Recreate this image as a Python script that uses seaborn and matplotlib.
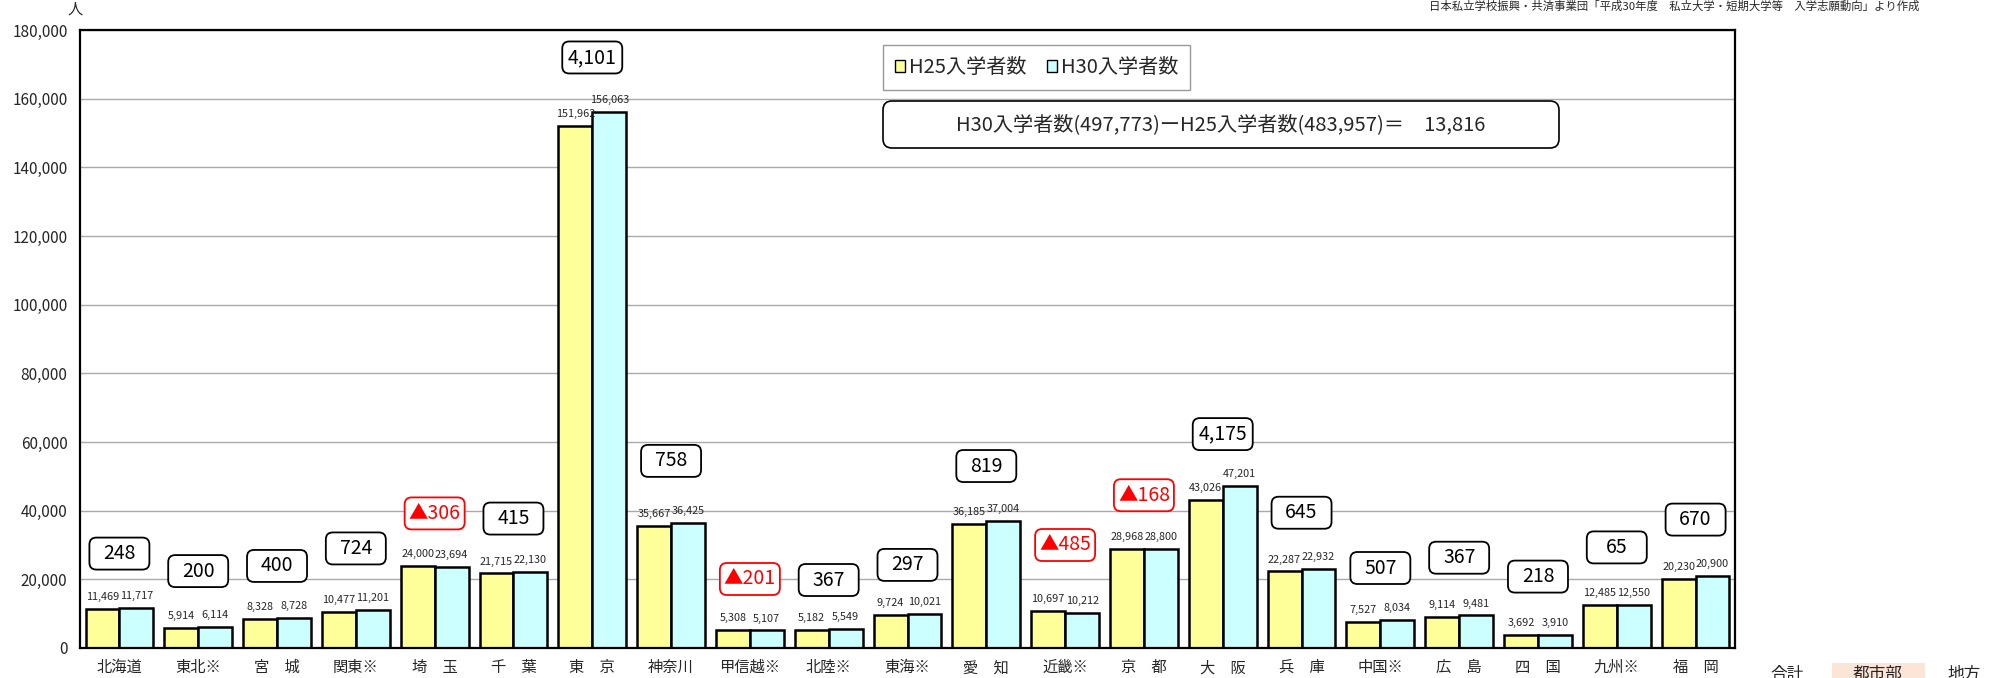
import numpy as np
import pandas as pd
import matplotlib
matplotlib.use("Agg")
import matplotlib.pyplot as plt
import seaborn as sns
from matplotlib.patches import FancyBboxPatch, Rectangle, Patch
from matplotlib.transforms import IdentityTransform
from matplotlib.ticker import FuncFormatter


# -----------------------
# Data
# -----------------------

regions = [
    "北海道", "東北※", "宮　城", "関東※", "埼　玉", "千　葉", "東　京",
    "神奈川", "甲信越※", "北陸※", "東海※", "愛　知", "近畿※", "京　都",
    "大　阪", "兵　庫", "中国※", "広　島", "四　国", "九州※", "福　岡",
]

h25 = [
    11469, 5914, 8328, 10477, 24000, 21715, 151962,
    35667, 5308, 5182, 9724, 36185, 10697, 28968,
    43026, 22287, 7527, 9114, 3692, 12485, 20230,
]

h30 = [
    11717, 6114, 8728, 11201, 23694, 22130, 156063,
    36425, 5107, 5549, 10021, 37004, 10212, 28800,
    47201, 22932, 8034, 9481, 3910, 12550, 20900,
]

series = ["H25入学者数", "H30入学者数"]

# height (in y units) where each difference box sits
box_y = [
    27500, 22400, 23900, 29000, 39200, 37700, 172000,
    54500, 20100, 19800, 24200, 53000, 30000, 44500,
    62300, 39400, 23300, 26300, 20800, 29300, 37400,
]

total_h25 = 483957
total_h30 = 497773

source_text = "日本私立学校振興・共済事業団「平成30年度　私立大学・短期大学等　入学志願動向」より作成"

yellow = "#FFFF99"
cyan = "#CCFFFF"

W, H = 2007, 678


# -----------------------
# Figure
# -----------------------

sns.set_style("white")
plt.rcParams["font.family"] = ["Noto Sans CJK JP", "DejaVu Sans"]

fig = plt.figure(figsize=(W / 100, H / 100), dpi=100)
ax = fig.add_axes([80 / W, 1 - 648 / H, (1735 - 80) / W, (648 - 30) / H])

n = len(regions)

df = pd.DataFrame({
    "地域": regions * 2,
    "年度": [series[0]] * n + [series[1]] * n,
    "入学者数": h25 + h30,
})

sns.barplot(
    data=df,
    x="地域",
    y="入学者数",
    hue="年度",
    order=regions,
    hue_order=series,
    palette=[yellow, cyan],
    width=0.86,
    edgecolor="black",
    linewidth=1.8,
    saturation=1,
    legend=False,
    ax=ax,
)

ax.set_xlim(-0.5, n - 0.5)
ax.set_ylim(0, 180000)
ax.set_yticks(range(0, 180001, 20000))
ax.yaxis.set_major_formatter(FuncFormatter(lambda v, p: f"{v:,.0f}"))
ax.set_xlabel("")
ax.set_ylabel("")

ax.grid(axis="y", color="#aaaaaa", linewidth=1)
ax.set_axisbelow(True)

for side in ["top", "bottom", "left", "right"]:
    ax.spines[side].set_visible(True)
    ax.spines[side].set_color("black")
    ax.spines[side].set_linewidth(1.6)

ax.tick_params(axis="y", length=0, pad=9, labelsize=11)
ax.tick_params(axis="x", length=0, pad=8, labelsize=11)
ax.set_xticks(np.arange(0.5, n - 1), minor=True)
ax.tick_params(axis="x", which="minor", length=3, color="#999999", direction="in")

# value labels on bars
for cont, vals in zip(ax.containers, [h25, h30]):
    ax.bar_label(cont, labels=[f"{v:,}" for v in vals], padding=5, fontsize=7.8)


# -----------------------
# Difference boxes
# -----------------------

def pixel_box(x0, y0_top, w, h, edge, lw=1.3, rounding=7):
    patch = FancyBboxPatch(
        (x0, H - y0_top - h), w, h,
        boxstyle=f"round,pad=0,rounding_size={rounding}",
        transform=IdentityTransform(),
        facecolor="white",
        edgecolor=edge,
        linewidth=lw,
        zorder=3,
    )
    fig.add_artist(patch)


for i, (a, b) in enumerate(zip(h25, h30)):
    d = b - a
    if d < 0:
        label = f"▲{-d:,}"
        color = "#FF0000"
    else:
        label = f"{d:,}"
        color = "black"
    px, py = ax.transData.transform((i, box_y[i]))
    pixel_box(px - 30, H - py - 16, 60, 32, color)
    fig.text(px, py, label, transform=IdentityTransform(),
             ha="center", va="center", fontsize=14, color=color, zorder=4)


# -----------------------
# Legend and formula box
# -----------------------

handles = [
    Patch(facecolor=yellow, edgecolor="black", linewidth=1),
    Patch(facecolor=cyan, edgecolor="black", linewidth=1),
]

leg = fig.legend(
    handles,
    series,
    loc="center",
    bbox_to_anchor=(1036.5 / W, 1 - 67.75 / H),
    ncol=2,
    fontsize=14.5,
    frameon=True,
    fancybox=False,
    edgecolor="#808080",
    handlelength=0.5,
    handleheight=0.5,
    handletextpad=0.2,
    columnspacing=1.0,
    borderpad=0.6,
)
leg.get_frame().set_linewidth(1.0)

pixel_box(883, 101, 676, 47, "black", lw=1.2, rounding=9)
fig.text(
    1221, H - 124.5,
    f"H30入学者数({total_h30:,})ーH25入学者数({total_h25:,})＝　{total_h30 - total_h25:,}",
    transform=IdentityTransform(),
    ha="center", va="center", fontsize=14.5, zorder=4,
)


# -----------------------
# Other texts
# -----------------------

fig.text(75 / W, 1 - 9 / H, "人", ha="center", va="center", fontsize=11)
fig.text(1674 / W, 1 - 6 / H, source_text, ha="center", va="center", fontsize=8.2)

fig.add_artist(Rectangle(
    (1832, 0), 93, H - 663,
    transform=IdentityTransform(),
    facecolor="#FCE4D6", edgecolor="none", zorder=1,
))
fig.text(1787 / W, 1 - 666 / H, "合計", ha="center", va="top", fontsize=12)
fig.text(1878 / W, 1 - 666 / H, "都市部", ha="center", va="top", fontsize=12, zorder=2)
fig.text(1964 / W, 1 - 666 / H, "地方", ha="center", va="top", fontsize=12)

fig.savefig("out.png", dpi=100)
